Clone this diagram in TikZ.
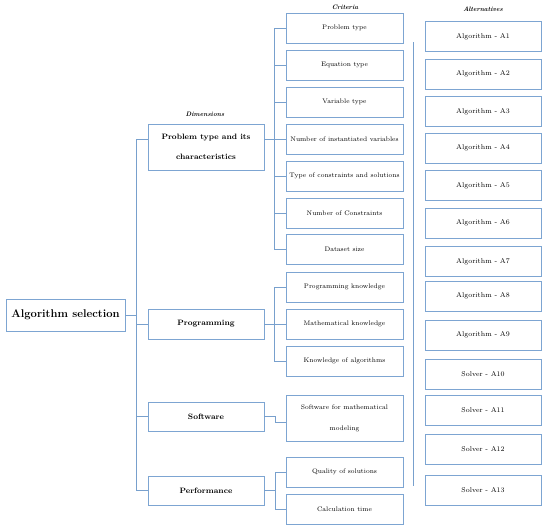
\documentclass[tikz,border=0pt]{standalone}
\usepackage{tikz}

\definecolor{boxblue}{RGB}{125,165,210}
\definecolor{lineblue}{RGB}{120,160,205}

\begin{document}
\begin{tikzpicture}[x=1pt, y=-1pt,
    rootbox/.style={draw=boxblue, line width=0.8pt, fill=white, minimum width=119pt, minimum height=32pt,
      inner sep=1pt, font=\bfseries\fontsize{11.2}{13}\selectfont},
    dimbox/.style={draw=boxblue, line width=0.8pt, fill=white, minimum width=116pt, minimum height=30pt,
      inner sep=1pt, align=center, font=\bfseries\fontsize{7.8}{20}\selectfont},
    critbox/.style={draw=boxblue, line width=0.8pt, fill=white, minimum width=117pt, minimum height=30pt,
      inner sep=1pt, align=center, font=\fontsize{6.6}{21}\selectfont},
    altbox/.style={draw=boxblue, line width=0.8pt, fill=white, minimum width=116pt, minimum height=30pt,
      inner sep=1pt, font=\fontsize{7}{9}\selectfont},
    heading/.style={font=\bfseries\itshape\fontsize{6.5}{8}\selectfont},
    conn/.style={draw=lineblue, line width=0.8pt}]

  \useasboundingbox (0,0) rectangle (550,530);

  % Headings
  \node[heading] (hdim) at (205,114) {Dimensions};
  \node[heading] (hcrit) at (345,7) {Criteria};
  \node[heading] (halt) at (483,9) {Alternatives};

  % Root
  \node[rootbox] (root) at (65.5,315) {Algorithm selection};

  % Dimensions
  \node[dimbox, minimum height=46pt] (d1) at (206,147) {Problem type and its\\characteristics};
  \node[dimbox] (d2) at (206,324) {Programming};
  \node[dimbox, minimum height=29pt] (d3) at (206,416.5) {Software};
  \node[dimbox, minimum height=29pt] (d4) at (206,490.5) {Performance};

  % Criteria
  \node[critbox] (c1) at (344.5,28) {Problem type};
  \node[critbox] (c2) at (344.5,65) {Equation type};
  \node[critbox] (c3) at (344.5,102) {Variable type};
  \node[critbox] (c4) at (344.5,139) {Number of instantiated variables};
  \node[critbox] (c5) at (344.5,176) {Type of constraints and solutions};
  \node[critbox] (c6) at (344.5,213) {Number of Constraints};
  \node[critbox] (c7) at (344.5,249.5) {Dataset size};
  \node[critbox] (c8) at (344.5,287) {Programming knowledge};
  \node[critbox] (c9) at (344.5,324) {Mathematical knowledge};
  \node[critbox] (c10) at (344.5,361) {Knowledge of algorithms};
  \node[critbox, minimum height=46pt] (c11) at (344.5,418) {Software for mathematical\\modeling};
  \node[critbox] (c12) at (344.5,472) {Quality of solutions};
  \node[critbox] (c13) at (344.5,509.5) {Calculation time};

  % Alternatives
  \foreach \i/\yy in {1/36.5, 2/74, 3/111.5, 4/148, 5/185.5, 6/223, 7/261.5, 8/296, 9/335}
    \node[altbox] (a\i) at (483,\yy) {Algorithm - A\i};
  \foreach \i/\yy in {10/374, 11/410, 12/449, 13/490}
    \node[altbox] (a\i) at (483,\yy) {Solver - A\i};

  % Separator
  \draw[lineblue, line width=0.6pt] (413,42) -- (413,486);

  % Root to dimensions
  \draw[conn] (root.east) -- ++(11,0) |- (d1.west |- c4.west);
  \draw[conn] (root.east) -- ++(11,0) |- (d2.west);
  \draw[conn] (root.east) -- ++(11,0) |- (d3.west);
  \draw[conn] (root.east) -- ++(11,0) |- (d4.west);

  % Dimensions to criteria
  \draw[conn] (d1.east |- c4.west) -- (c4.west);
  \foreach \c in {c1,c2,c3,c5,c6,c7}
    \draw[conn] (c4.west) -- ++(-11,0) |- (\c.west);
  \draw[conn] (d2.east) -- (c9.west);
  \foreach \c in {c8,c10}
    \draw[conn] (c9.west) -- ++(-11,0) |- (\c.west);
  \draw[conn] (d3.east) -- ++(11,0) |- ([yshift=-4pt]c11.west);
  \draw[conn] (d4.east) -- ++(11,0) |- (c12.west);
  \draw[conn] (d4.east) -- ++(11,0) |- (c13.west);

\end{tikzpicture}
\end{document}
